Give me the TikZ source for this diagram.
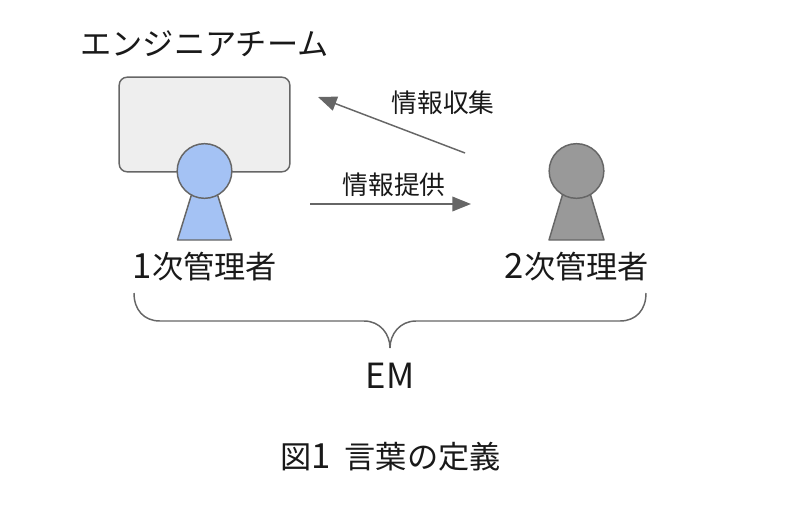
\documentclass[tikz,border=0pt]{standalone}
\usepackage{fontspec}
\setmainfont{Noto Sans CJK JP}
\usetikzlibrary{arrows.meta,positioning,calc}
\definecolor{linegray}{RGB}{102,102,102}
\definecolor{teamgray}{RGB}{238,238,238}
\definecolor{firstblue}{RGB}{164,194,244}
\definecolor{secondgray}{RGB}{153,153,153}

\begin{document}
\begin{tikzpicture}[
        x=0.75pt, y=-0.75pt,
        teambox/.style={rectangle, draw=linegray, fill=teamgray, rounded corners=6pt, line width=1.1pt, minimum width=128pt, minimum height=71pt, inner sep=0pt},
        head/.style={circle, draw=linegray, line width=1.1pt, minimum size=41pt, inner sep=0pt},
        body/.style={draw=linegray, line width=1.1pt, line join=round},
        arrow/.style={-{Triangle[length=14pt,width=11pt]}, draw=linegray, fill=linegray, line width=1.1pt},
        label/.style={font=\fontsize{23.4}{28}\selectfont, inner sep=0pt, text=black!90},
        small/.style={font=\fontsize{19.3}{23}\selectfont, inner sep=0pt, text=black!90}
    ]
        \useasboundingbox (0,0) rectangle (792,510);

        % Team
        \node[label] (team) at (204.5,44) {エンジニアチーム};
        \node[teambox] (box) at (204.5,124.5) {};

        % People
        \draw[body, fill=firstblue] (192,193) -- (177.5,240) -- (231.5,240) -- (217,193) -- cycle;
        \node[head, fill=firstblue] (first) at (204.5,171) {};
        \draw[body, fill=secondgray] (563,193) -- (549,240) -- (604,240) -- (590,193) -- cycle;
        \node[head, fill=secondgray] (second) at (576.5,171) {};
        \node[label] (firstname) at (205,267) {{\fontsize{26}{28}\selectfont 1}次管理者};
        \node[label] (secondname) at (577,267) {{\fontsize{26}{28}\selectfont 2}次管理者};

        % Arrows
        \coordinate (collectstart) at (465,153);
        \coordinate (collectend) at (318,97);
        \coordinate (givestart) at (310,204);
        \coordinate (giveend) at (471,204);
        \draw[arrow] (collectstart) -- (collectend);
        \draw[arrow] (givestart) -- (giveend);
        \node[small] (collect) at (443,103) {情報収集};
        \node[small] (give) at (394,185) {情報提供};

        % Brace
        \coordinate (braceleft) at (134,293);
        \coordinate (braceright) at (646,293);
        \coordinate (bracetip) at (390,348);
        \draw[linegray, line width=1.1pt]
            (braceleft) .. controls (134,310) and (144,321) .. (160,321) -- (364,321)
            .. controls (380,321) and (390,334) .. (bracetip)
            .. controls (390,334) and (400,321) .. (416,321) -- (620,321)
            .. controls (636,321) and (646,310) .. (braceright);
        \node[label, font=\fontsize{26}{30}\selectfont, below=11pt of bracetip] (em) {EM};

        % Caption
        \node[label] (caption) at (390.5,457) {図{\fontsize{26}{28}\selectfont 1}\hspace{0.45em}言葉の定義};
    \end{tikzpicture}
\end{document}
